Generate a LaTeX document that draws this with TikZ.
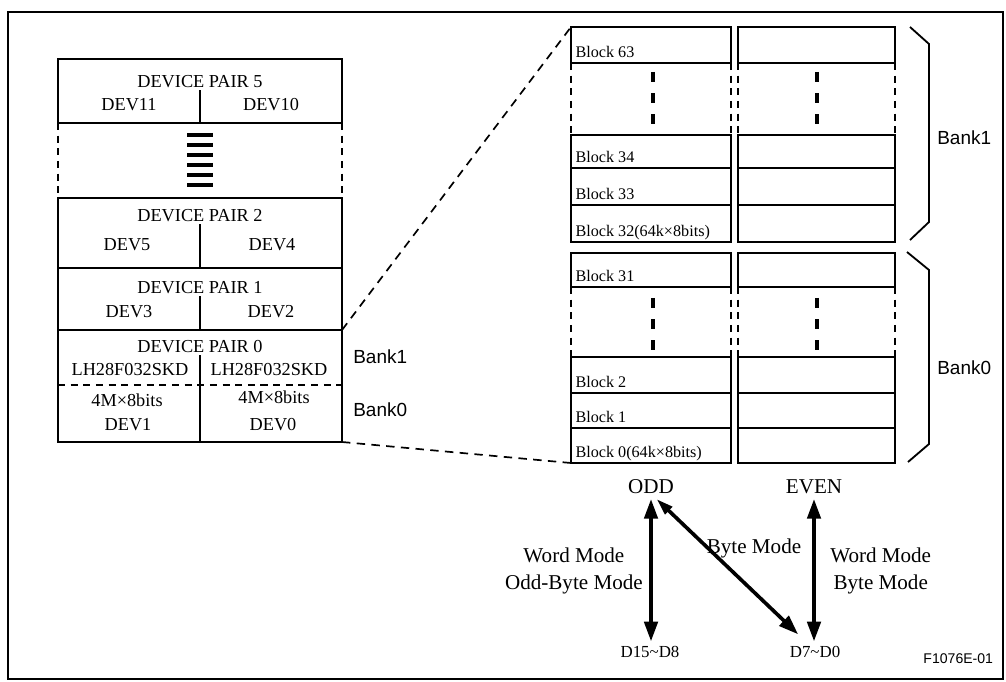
\documentclass[tikz,border=0pt]{standalone}
\usepackage{fontspec}
\setmainfont{Liberation Serif}
\setsansfont{Liberation Sans}
\usepackage{tikz}
\usetikzlibrary{arrows.meta, positioning}

\newlength{\pxu}
\setlength{\pxu}{0.025cm}

\begin{document}
\begin{tikzpicture}[
      x=0.025cm, y=-0.025cm,
      >={Triangle[length=14pt, width=9.5pt]},
      pairbox/.style={draw, line width=1.6pt, anchor=north west, inner sep=0pt, outer sep=0pt, minimum width=284\pxu},
      blockbox/.style={draw, line width=1.5pt, anchor=north west, inner sep=0pt, outer sep=0pt},
      oddbox/.style={blockbox, minimum width=160\pxu},
      evenbox/.style={blockbox, minimum width=157\pxu},
      gapside/.style={line width=1.6pt, dash pattern=on 5pt off 4pt},
      dotbar/.style={line width=2.6pt, dash pattern=on 7pt off 8pt},
      pairtitle/.style={font=\fontsize{13}{15}\selectfont, fill=white, inner sep=1pt},
      devlabel/.style={font=\fontsize{13}{15}\selectfont, inner sep=1pt},
      blklabel/.style={font=\fontsize{11.5}{13}\selectfont, anchor=base west, inner sep=0pt},
      banklabel/.style={font=\sffamily\fontsize{13.5}{16}\selectfont, anchor=west, inner sep=0pt},
      portlabel/.style={font=\fontsize{15}{18}\selectfont},
      buslabel/.style={font=\fontsize{12}{14}\selectfont},
      modelabel/.style={font=\fontsize{15}{19}\selectfont, align=center, inner sep=0pt},
      modearrow/.style={<->, line width=2.6pt},
      zoomline/.style={line width=1.2pt, dash pattern=on 6pt off 4.5pt},
    ]

    \useasboundingbox (0,0) rectangle (1006,682);
    \draw[line width=0.9pt] (8,12) rectangle (1003,679);

    % device pairs
    \node[pairbox, minimum height=64\pxu]  (p5) at (58,59) {};
    \node[pairbox, minimum height=70\pxu]  (p2) at (58,198) {};
    \node[pairbox, minimum height=62\pxu]  (p1) at (58,268) {};
    \node[pairbox, minimum height=112\pxu] (p0) at (58,330) {};

    \draw[gapside] (p5.south west) -- (p2.north west);
    \draw[gapside] (p5.south east) -- (p2.north east);
    \draw[line width=19pt, dash pattern=on 2.8pt off 4.3pt] (200,133) -- (200,190);

    \node[pairtitle] (p5t) at (200,82) {DEVICE PAIR 5};
    \node[devlabel] (dev11) at (129,105) {DEV11};
    \node[devlabel] (dev10) at (271,105) {DEV10};
    \draw[line width=1pt] (p5.south) -- (p5t.south);

    \node[pairtitle] (p2t) at (200,216) {DEVICE PAIR 2};
    \node[devlabel] (dev5) at (127,245) {DEV5};
    \node[devlabel] (dev4) at (272,245) {DEV4};
    \draw[line width=1pt] (p2.south) -- (p2t.south);

    \node[pairtitle] (p1t) at (200,288) {DEVICE PAIR 1};
    \node[devlabel] (dev3) at (129,312) {DEV3};
    \node[devlabel] (dev2) at (271,312) {DEV2};
    \draw[line width=1pt] (p1.south) -- (p1t.south);

    \node[pairtitle] (p0t) at (200,347) {DEVICE PAIR 0};
    \draw[line width=1pt] (p0.south) -- (p0t.south);
    \node[devlabel] (lh1) at (130,370) {LH28F032SKD};
    \node[devlabel] (lh0) at (269,370) {LH28F032SKD};
    \draw[line width=0.9pt, dash pattern=on 5pt off 4pt] (58,385) -- (342,385);
    \node[devlabel, fill=white] (sz1) at (127,400) {4M×8bits};
    \node[devlabel, fill=white] (sz0) at (274,397) {4M×8bits};
    \node[devlabel] (dev1) at (128,425) {DEV1};
    \node[devlabel] (dev0) at (273,425) {DEV0};

    \node[banklabel] (bk1l) at (353,357) {Bank1};
    \node[banklabel] (bk0l) at (353,410) {Bank0};

    % bank 1 blocks
    \node[oddbox, minimum height=36\pxu]  (b63) at (571,27) {};
    \node[evenbox, minimum height=36\pxu] (e63) at (738,27) {};
    \node[oddbox, minimum height=33\pxu]  (b34) at (571,135) {};
    \node[evenbox, minimum height=33\pxu] (e34) at (738,135) {};
    \node[oddbox, minimum height=37\pxu]  (b33) at (571,168) {};
    \node[evenbox, minimum height=37\pxu] (e33) at (738,168) {};
    \node[oddbox, minimum height=37\pxu]  (b32) at (571,205) {};
    \node[evenbox, minimum height=37\pxu] (e32) at (738,205) {};

    \draw[gapside] (b63.south west) -- (b34.north west);
    \draw[gapside] (b63.south east) -- (b34.north east);
    \draw[gapside] (e63.south west) -- (e34.north west);
    \draw[gapside] (e63.south east) -- (e34.north east);
    \draw[dotbar] (653,72) -- (653,126);
    \draw[dotbar] (817,72) -- (817,126);

    \node[blklabel] (l63) at ([xshift=3pt, yshift=4pt]b63.south west) {Block 63};
    \node[blklabel] (l34) at ([xshift=3pt, yshift=4pt]b34.south west) {Block 34};
    \node[blklabel] (l33) at ([xshift=3pt, yshift=4pt]b33.south west) {Block 33};
    \node[blklabel] (l32) at ([xshift=3pt, yshift=4pt]b32.south west) {Block 32(64k×8bits)};

    % bank 0 blocks
    \node[oddbox, minimum height=34\pxu]  (b31) at (571,253) {};
    \node[evenbox, minimum height=34\pxu] (e31) at (738,253) {};
    \node[oddbox, minimum height=36\pxu]  (b2) at (571,357) {};
    \node[evenbox, minimum height=36\pxu] (e2) at (738,357) {};
    \node[oddbox, minimum height=35\pxu]  (b1) at (571,393) {};
    \node[evenbox, minimum height=35\pxu] (e1) at (738,393) {};
    \node[oddbox, minimum height=35\pxu]  (b0) at (571,428) {};
    \node[evenbox, minimum height=35\pxu] (e0) at (738,428) {};

    \draw[gapside] (b31.south west) -- (b2.north west);
    \draw[gapside] (b31.south east) -- (b2.north east);
    \draw[gapside] (e31.south west) -- (e2.north west);
    \draw[gapside] (e31.south east) -- (e2.north east);
    \draw[dotbar] (653,298) -- (653,350);
    \draw[dotbar] (817,298) -- (817,350);

    \node[blklabel] (l31) at ([xshift=3pt, yshift=4pt]b31.south west) {Block 31};
    \node[blklabel] (l2) at ([xshift=3pt, yshift=4pt]b2.south west) {Block 2};
    \node[blklabel] (l1) at ([xshift=3pt, yshift=4pt]b1.south west) {Block 1};
    \node[blklabel] (l0) at ([xshift=3pt, yshift=4pt]b0.south west) {Block 0(64k×8bits)};

    % brackets
    \draw[line width=1.3pt] (910,27) -- (929,44) -- (929,222) -- (910,240);
    \draw[line width=1.3pt] (907,252) -- (929,270) -- (929,444) -- (908,462);
    \node[banklabel] (bk1r) at (937,138) {Bank1};
    \node[banklabel] (bk0r) at (937,368) {Bank0};

    \draw[zoomline] (p0.north east) -- (b63.north west);
    \draw[zoomline] (p0.south east) -- (b0.south west);

    % data bus
    \node[portlabel] (odd)  at (651,487) {ODD};
    \node[portlabel] (even) at (814,487) {EVEN};
    \node[buslabel]  (dhi)  at (650,652) {D15\textasciitilde D8};
    \node[buslabel]  (dlo)  at (815,652) {D7\textasciitilde D0};

    \draw[modearrow] (odd.south) -- (odd.south |- dhi.north);
    \draw[modearrow] (even.south) -- (even.south |- dlo.north);
    \draw[line width=2.6pt, {Triangle[length=12pt, width=7pt]}->]
      ([xshift=4pt]odd.south) -- ([xshift=-12pt, yshift=5pt]dlo.north);

    \node[modelabel, anchor=east] (wm1) at (643,571) {Word Mode\\Odd-Byte Mode};
    \node[modelabel, anchor=west] (wm2) at (830,571) {Word Mode\\Byte Mode};
    \node[modelabel] (bm) at (754,548) {Byte Mode};

    \node[font=\sffamily\fontsize{10}{12}\selectfont, anchor=east] (fig) at (998,659) {F1076E-01};

  \end{tikzpicture}
\end{document}
